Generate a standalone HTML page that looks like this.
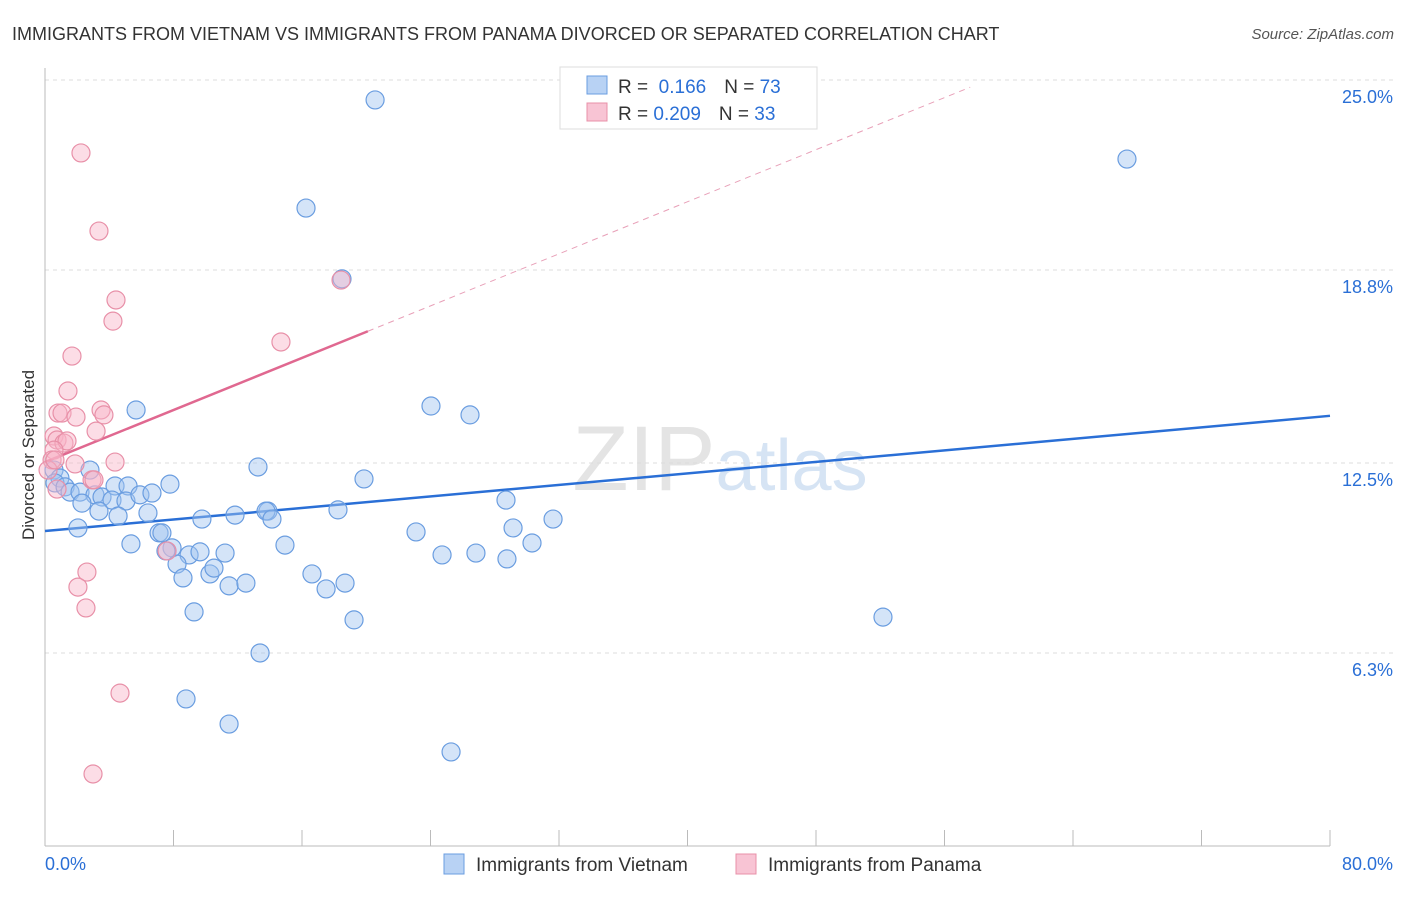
<!DOCTYPE html>
<html><head><meta charset="utf-8"><style>
body{margin:0;background:#fff;font-family:"Liberation Sans",sans-serif;}
svg text{font-family:"Liberation Sans",sans-serif;}
</style></head><body>
<svg width="1406" height="892" viewBox="0 0 1406 892">
<text x="12" y="40" font-size="18" fill="#333">IMMIGRANTS FROM VIETNAM VS IMMIGRANTS FROM PANAMA DIVORCED OR SEPARATED CORRELATION CHART</text>
<text x="1394" y="39" font-size="15" fill="#555" font-style="italic" text-anchor="end">Source: ZipAtlas.com</text>
<text x="720" y="490" font-size="92" fill="#e4e4e4" text-anchor="middle" font-family="Liberation Serif">ZIP<tspan fill="#d6e4f4" font-family="Liberation Sans" font-size="72">atlas</tspan></text>
<g id="grid"></g><g id="axes"></g><g id="lines"></g><g id="pts"></g>
<text transform="translate(34,455) rotate(-90)" font-size="17" fill="#333" text-anchor="middle">Divorced or Separated</text>
<g>
<rect x="560" y="67" width="257" height="62" fill="#fff" stroke="#ddd"/>
<rect x="587" y="76" width="20" height="18" fill="#b8d2f4" stroke="#6a9de0"/>
<rect x="587" y="103" width="20" height="18" fill="#f8c4d4" stroke="#e890a8"/>
<text x="618" y="93" font-size="19" fill="#333">R = <tspan fill="#2a6fd6">&#160;0.166</tspan><tspan dx="18">N = </tspan><tspan fill="#2a6fd6">73</tspan></text>
<text x="618" y="120" font-size="19" fill="#333">R = <tspan fill="#2a6fd6">0.209</tspan><tspan dx="18">N = </tspan><tspan fill="#2a6fd6">33</tspan></text>
</g>
<g>
<rect x="444" y="854" width="20" height="20" fill="#b8d2f4" stroke="#6a9de0"/>
<text x="476" y="871" font-size="19" fill="#333">Immigrants from Vietnam</text>
<rect x="736" y="854" width="20" height="20" fill="#f8c4d4" stroke="#e890a8"/>
<text x="768" y="871" font-size="19" fill="#333">Immigrants from Panama</text>
</g>
</svg>
<script>
const yTicks=[25,18.8,12.5,6.3];
const yTickLabels=["25.0%","18.8%","12.5%","6.3%"];
const xTicks=[0,8,16,24,32,40,48,56,64,72,80];
const blueX=[20.55,67.36,16.25,18.49,24.03,26.46,5.67,13.26,19.86,0.56,0.93,0.62,1.25,1.56,2.80,2.18,3.11,3.55,4.36,5.17,4.17,5.04,5.91,6.66,7.78,2.30,3.36,4.55,6.41,2.05,9.77,11.83,13.88,13.76,14.13,18.24,28.70,29.14,31.63,23.10,30.32,5.35,7.10,7.28,7.91,7.53,8.97,9.65,11.21,14.94,24.72,26.83,28.76,8.22,8.59,10.27,10.52,11.46,12.51,16.62,17.50,18.68,9.28,19.24,52.17,13.39,8.78,11.46,25.28];
const blueY=[24.35,22.42,20.82,18.51,14.36,14.07,14.23,12.37,11.98,12.27,12.01,11.85,11.72,11.55,12.27,11.55,11.46,11.39,11.75,11.75,11.29,11.26,11.46,11.52,11.81,11.19,10.93,10.77,10.87,10.38,10.67,10.80,10.93,10.93,10.67,10.97,11.29,10.38,10.67,10.25,9.89,9.86,10.22,10.22,9.73,9.63,9.50,9.60,9.56,9.82,9.50,9.56,9.37,9.20,8.75,8.88,9.07,8.49,8.58,8.88,8.39,8.58,7.64,7.38,7.47,6.30,4.80,3.98,3.07];
const pinkX=[2.24,3.36,4.42,4.23,1.68,18.43,14.69,1.43,0.81,1.06,1.93,3.49,3.67,3.18,0.56,0.75,1.18,1.37,0.56,0.44,0.19,1.87,2.93,3.05,4.36,0.75,2.61,2.05,2.55,7.60,4.67,2.99,0.62];
const pinkY=[22.62,20.07,17.82,17.13,15.99,18.47,16.45,14.85,14.13,14.13,14.00,14.23,14.07,13.54,13.38,13.25,13.15,13.22,12.92,12.60,12.27,12.47,11.95,11.95,12.53,11.65,8.94,8.45,7.77,9.63,4.99,2.35,12.60];
const blueFit=[10.28,0.047];
const pinkFit=[12.53,0.2124];
const X0=45,X1=1330,Y0=846,YS=30.64;
const sx=v=>X0+(X1-X0)*v/80, sy=v=>Y0-v*YS;
const NS="http://www.w3.org/2000/svg";
function mk(p,t,a){const e=document.createElementNS(NS,t);for(const k in a)e.setAttribute(k,a[k]);document.getElementById(p).appendChild(e);return e;}
yTicks.forEach((t,i)=>{
 const g=mk('grid','line',{x1:X0,x2:1394,y1:sy(t),y2:sy(t),stroke:'#ddd','stroke-dasharray':'4,4'});
 
 
 const l=mk('grid','text',{x:1393,y:sy(t)+23,'font-size':18,fill:'#2a6fd6','text-anchor':'end'});
 l.textContent=yTickLabels[i];
 
 
});
const ax=mk('axes','line',{x1:X0,x2:X0,y1:68,y2:846,stroke:'#bbb'});


const bx=mk('axes','line',{x1:X0,x2:X1,y1:846,y2:846,stroke:'#bbb'});


xTicks.forEach(t=>{const k=mk('axes','line',{x1:sx(t),x2:sx(t),y1:830,y2:846,stroke:'#bbb'});
 
 });
const xl0=mk('axes','text',{x:45,y:870,'font-size':18,fill:'#2a6fd6'});xl0.textContent='0.0%';


const xl1=mk('axes','text',{x:1393,y:870,'font-size':18,fill:'#2a6fd6','text-anchor':'end'});xl1.textContent='80.0%';


blueX.forEach((x,i)=>{const c=mk('pts','circle',{cx:sx(x),cy:sy(blueY[i]),r:9,fill:'rgba(160,196,240,0.45)',stroke:'#6a9de0','stroke-width':1.2});
 
 });
pinkX.forEach((x,i)=>{const c=mk('pts','circle',{cx:sx(x),cy:sy(pinkY[i]),r:9,fill:'rgba(248,180,200,0.45)',stroke:'#e890a8','stroke-width':1.2});
 
 });
const bl=mk('lines','line',{x1:sx(0),y1:sy(blueFit[0]),x2:sx(80),y2:sy(blueFit[0]+blueFit[1]*80),stroke:'#2a6fd6','stroke-width':2.5});


const pl=mk('lines','line',{x1:sx(0),y1:sy(pinkFit[0]),x2:sx(20.1),y2:sy(pinkFit[0]+pinkFit[1]*20.1),stroke:'#e06890','stroke-width':2.5});


const pd=mk('lines','line',{x1:sx(20.1),y1:sy(pinkFit[0]+pinkFit[1]*20.1),x2:sx(57.6),y2:sy(pinkFit[0]+pinkFit[1]*57.6),stroke:'#e8a0b8','stroke-width':1,'stroke-dasharray':'6,5'});


</script>
</body></html>
